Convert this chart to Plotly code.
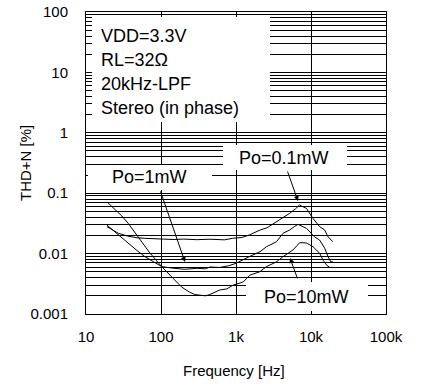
import plotly.graph_objects as go

# ---- data ----
freq_01mW = [19, 22, 27, 36, 48, 61, 100, 150, 200, 300, 450, 700, 900, 1200, 1500, 2100,
             2600, 3500, 4300, 5200, 6200, 7000, 8700, 10600, 13000, 15200, 16900, 19600]
thd_01mW = [0.028, 0.025, 0.0217, 0.0195, 0.0183, 0.0179, 0.0173, 0.0171, 0.0174, 0.0170,
            0.0173, 0.0169, 0.0179, 0.0185, 0.0203, 0.0246, 0.0268, 0.0337, 0.040, 0.0465,
            0.055, 0.0638, 0.056, 0.0384, 0.028, 0.0246, 0.019, 0.0157]

freq_1mW = [19, 24, 30, 36, 48, 61, 80, 102, 150, 208, 300, 390, 450, 608, 800, 1000, 1500,
            2100, 2550, 3460, 4240, 5200, 6000, 6700, 8700, 11100, 13000, 15200, 16900, 18400, 19600]
thd_1mW = [0.0297, 0.0231, 0.0185, 0.0148, 0.0112, 0.0089, 0.0072, 0.0061, 0.0057, 0.0055,
           0.0057, 0.0056, 0.0060, 0.0059, 0.0063, 0.0069, 0.0089, 0.0108, 0.013, 0.0157,
           0.0217, 0.0246, 0.028, 0.0305, 0.0262, 0.019, 0.0168, 0.0123, 0.0089, 0.0073, 0.0073]

freq_10mW = [19, 25, 30, 36.5, 50, 70, 102, 140, 188, 240, 282, 390, 448, 608, 750, 914, 1250,
             1530, 2070, 2550, 3460, 4240, 5200, 5760, 7075, 8670, 10640, 13060, 14470, 16040,
             17740, 19640]
thd_10mW = [0.072, 0.052, 0.042, 0.0318, 0.019, 0.0105, 0.0061, 0.0041, 0.0028, 0.0023, 0.0021,
            0.0020, 0.0021, 0.0025, 0.0026, 0.0030, 0.0034, 0.0044, 0.0050, 0.0061, 0.0073,
            0.0089, 0.0108, 0.0115, 0.0152, 0.0150, 0.013, 0.0101, 0.0078, 0.0065, 0.0059, 0.0059]

x_tickvals = [10, 100, 1000, 10000, 100000]
x_ticktext = ["10", "100", "1k", "10k", "100k"]
y_tickvals = [0.001, 0.01, 0.1, 1, 10, 100]
y_ticktext = ["0.001", "0.01", "0.1", "1", "10", "100"]

condition_lines = ["VDD=3.3V", "RL=32Ω", "20kHz-LPF", "Stereo (in phase)"]

FONT = "Arial, Liberation Sans, sans-serif"

fig = go.Figure()
for fx, ty in [(freq_01mW, thd_01mW), (freq_1mW, thd_1mW), (freq_10mW, thd_10mW)]:
    fig.add_trace(go.Scatter(x=fx, y=ty, mode="lines",
                             line=dict(color="black", width=1), showlegend=False))

# plot area in window pixels: left 86, right 386, top 12, bottom 314
L, R, T, B = 86, 386, 12, 314
W, H = 421, 392

def px(xp):
    return (xp - L) / (R - L)
def py(yp):
    return (B - yp) / (B - T)

shapes = []
def white_box(x0, y0, x1, y1):
    shapes.append(dict(type="rect", xref="paper", yref="paper",
                       x0=px(x0), x1=px(x1), y0=py(y1), y1=py(y0),
                       fillcolor="white", line=dict(width=0), layer="above"))

white_box(92, 17, 270, 122)     # conditions box
white_box(223, 145, 347, 170)   # Po=0.1mW
white_box(88, 165, 212, 190)    # Po=1mW
white_box(246, 282, 368, 311)   # Po=10mW

annotations = []
for i, txt in enumerate(condition_lines):
    annotations.append(dict(text=txt, xref="paper", yref="paper", x=px(99), y=py(36 + i * 24),
                            xanchor="left", yanchor="middle", showarrow=False,
                            font=dict(family=FONT, size=18, color="black")))

def label(txt, cx, cy):
    annotations.append(dict(text=txt, xref="paper", yref="paper", x=px(cx), y=py(cy),
                            xanchor="center", yanchor="middle", showarrow=False,
                            font=dict(family=FONT, size=18, color="black")))

label("Po=0.1mW", 284, 158)
label("Po=1mW", 149, 177)
label("Po=10mW", 306, 297)

def arrow(tx, ty, hx, hy):
    annotations.append(dict(text="", xref="paper", yref="paper", x=px(hx), y=py(hy),
                            ax=tx - hx, ay=ty - hy, showarrow=True, arrowhead=2,
                            arrowsize=1, arrowwidth=1, arrowcolor="black", standoff=0))

arrow(287, 170, 298, 201)
arrow(160, 190, 185, 262)
arrow(298, 280, 290, 258)

annotations.append(dict(text="Frequency [Hz]", xref="paper", yref="paper", x=px(234), y=py(370),
                        xanchor="center", yanchor="middle", showarrow=False,
                        font=dict(family=FONT, size=15, color="black")))
annotations.append(dict(text="THD+N [%]", xref="paper", yref="paper", x=px(25), y=py(163),
                        xanchor="center", yanchor="middle", showarrow=False, textangle=-90,
                        font=dict(family=FONT, size=15, color="black")))

fig.update_layout(
    width=W, height=H,
    margin=dict(l=L, r=W - R, t=T, b=H - B, autoexpand=False),
    paper_bgcolor="white", plot_bgcolor="white",
    font=dict(family=FONT, size=15, color="black"),
    shapes=shapes, annotations=annotations,
    xaxis=dict(type="log", range=[1, 5], tickvals=x_tickvals, ticktext=x_ticktext,
               showgrid=True, gridcolor="black", gridwidth=1,
               showline=True, linecolor="black", linewidth=1, mirror=True,
               ticks="", ticklabelstandoff=9, zeroline=False, automargin=False,
               ticklabeloverflow="allow",
               tickfont=dict(family=FONT, size=15, color="black")),
    yaxis=dict(type="log", range=[-3, 2], tickvals=y_tickvals, ticktext=y_ticktext,
               showgrid=True, gridcolor="black", gridwidth=1,
               minor=dict(dtick="D1", showgrid=True, gridcolor="black", gridwidth=1, ticks=""),
               showline=True, linecolor="black", linewidth=1, mirror=True,
               ticks="", ticklabelstandoff=14, zeroline=False, automargin=False,
               ticklabeloverflow="allow",
               tickfont=dict(family=FONT, size=15, color="black")),
)

fig.write_html("out.html", config={"displayModeBar": False},
               post_script="document.body.style.margin='0px';")
